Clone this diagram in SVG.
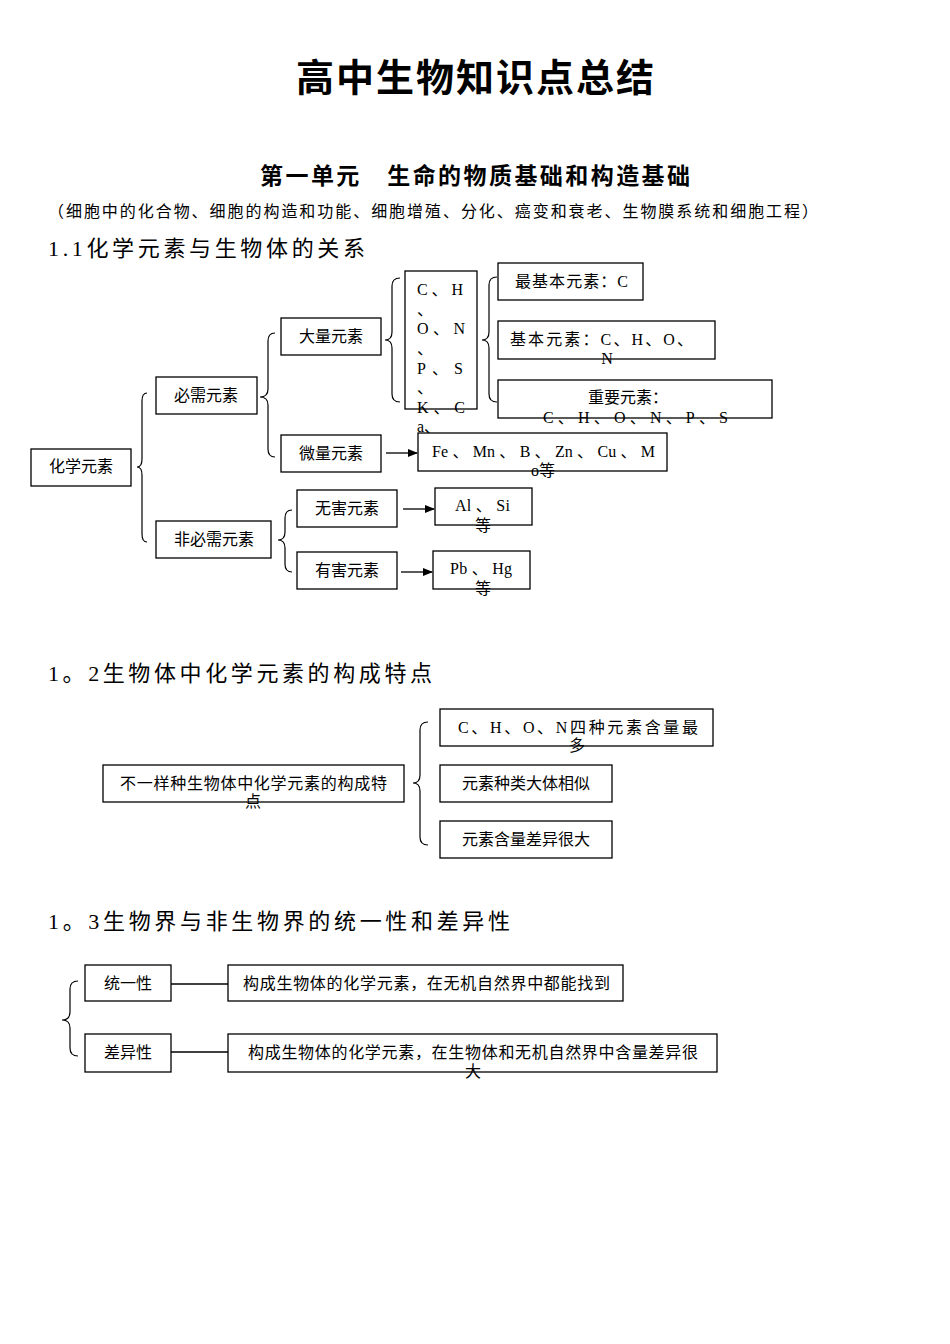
<svg xmlns="http://www.w3.org/2000/svg" width="950" height="1344" viewBox="0 0 950 1344">
<defs>
<style>
.bx{fill:#fff;stroke:#000;stroke-width:1.3}
.t{font-family:"Liberation Serif","Noto Sans CJK SC",serif;font-size:16px;fill:#000}
.c{text-anchor:middle}
.h{font-family:"Liberation Serif","Noto Sans CJK SC",serif;font-size:22px;fill:#000}
.br{fill:none;stroke:#000;stroke-width:1.2}
.ln{fill:none;stroke:#000;stroke-width:1.3}
</style>
<marker id="ah" markerWidth="10" markerHeight="8" refX="9" refY="4" orient="auto" markerUnits="userSpaceOnUse">
<path d="M0,0 L10,4 L0,8 Z" fill="#000"/>
</marker>
</defs>
<rect width="950" height="1344" fill="#fff"/>

<g id="titles">
<text x="475" y="91" text-anchor="middle" font-family="'Noto Sans CJK SC',sans-serif" font-weight="bold" font-size="38" textLength="358">高中生物知识点总结</text>
<text x="260" y="184" font-family="'Liberation Serif','Noto Sans CJK SC',serif" font-weight="bold" font-size="23" textLength="430">第一单元　生命的物质基础和构造基础</text>
<text x="48" y="217" class="t" textLength="770">（细胞中的化合物、细胞的构造和功能、细胞增殖、分化、癌变和衰老、生物膜系统和细胞工程）</text>
<text x="48" y="256" class="h" textLength="317">1.1化学元素与生物体的关系</text>
<text x="48" y="681" class="h" textLength="384">1。2生物体中化学元素的构成特点</text>
<text x="48" y="929" class="h" textLength="462">1。3生物界与非生物界的统一性和差异性</text>
</g>

<g id="connectors">
<path class="br" d="M147,393 Q142,393 142,401 L142,459 Q142,467 137,467 Q142,467 142,475 L142,534 Q142,542 147,542"/>
<path class="br" d="M275,333 Q268,333 268,341 L268,389 Q268,397 260,397 Q268,397 268,405 L268,449 Q268,457 275,457"/>
<path class="br" d="M292,510 Q285,510 285,518 L285,532 Q285,540 278,540 Q285,540 285,548 L285,564 Q285,572 292,572"/>
<path class="br" d="M400,278 Q392,278 392,286 L392,332 Q392,340 385,340 Q392,340 392,348 L392,394 Q392,402 400,402"/>
<path class="br" d="M497,277 Q489,277 489,285 L489,332 Q489,340 482,340 Q489,340 489,348 L489,394 Q489,402 497,402"/>
<path class="br" d="M428,722 Q420,722 420,730 L420,775 Q420,783 413,783 Q420,783 420,791 L420,837 Q420,845 428,845"/>
<path class="br" d="M78,981 Q70,981 70,989 L70,1012 Q70,1020 62,1020 Q70,1020 70,1028 L70,1048 Q70,1056 78,1056"/>
<line class="ln" x1="386" y1="453" x2="417" y2="453" marker-end="url(#ah)"/>
<line class="ln" x1="403" y1="509" x2="434" y2="509" marker-end="url(#ah)"/>
<line class="ln" x1="401" y1="572" x2="432" y2="572" marker-end="url(#ah)"/>
<line class="ln" x1="171" y1="984" x2="228" y2="984"/>
<line class="ln" x1="171" y1="1052" x2="228" y2="1052"/>
</g>

<g id="n-huaxue"><rect class="bx" x="31" y="449" width="100" height="37"/><text class="t c" x="81" y="472">化学元素</text></g>
<g id="n-bixu"><rect class="bx" x="156" y="377" width="101" height="37"/><text class="t c" x="206" y="401">必需元素</text></g>
<g id="n-feibixu"><rect class="bx" x="156" y="521" width="115" height="37"/><text class="t c" x="214" y="545">非必需元素</text></g>
<g id="n-daliang"><rect class="bx" x="281" y="318" width="100" height="37"/><text class="t c" x="331" y="342">大量元素</text></g>
<g id="n-weiliang"><rect class="bx" x="281" y="435" width="100" height="37"/><text class="t c" x="331" y="459">微量元素</text></g>
<g id="n-wuhai"><rect class="bx" x="297" y="490" width="100" height="37"/><text class="t c" x="347" y="514">无害元素</text></g>
<g id="n-youhai"><rect class="bx" x="297" y="552" width="100" height="37"/><text class="t c" x="347" y="576">有害元素</text></g>
<g id="n-chons">
<rect class="bx" x="405" y="271" width="72" height="138"/>
<text class="t" x="417" y="295" textLength="46">C、H</text>
<text class="t" x="417" y="315">、</text>
<text class="t" x="417" y="334" textLength="48">O、N</text>
<text class="t" x="417" y="354">、</text>
<text class="t" x="417" y="374" textLength="46">P、S</text>
<text class="t" x="417" y="393">、</text>
<text class="t" x="417" y="413" textLength="48">K、C</text>
<text class="t" x="417" y="432">a、</text>
</g>
<g id="n-zuijiben"><rect class="bx" x="498" y="263" width="145" height="37"/><text class="t" x="515" y="287" textLength="113">最基本元素：C</text></g>
<g id="n-jiben"><rect class="bx" x="498" y="321" width="217" height="38"/><text class="t" x="510" y="345" textLength="183">基本元素：C、H、O、</text><text class="t c" x="607" y="364">N</text></g>
<g id="n-zhongyao"><rect class="bx" x="498" y="380" width="274" height="38"/><text class="t c" x="628" y="403">重要元素：</text><text class="t" x="543" y="423" textLength="185">C、H、O、N、P、S</text></g>
<g id="n-fe"><rect class="bx" x="418" y="433" width="249" height="38"/><text class="t" x="432" y="457" textLength="223">Fe 、 Mn 、 B 、 Zn 、 Cu 、 M</text><text class="t c" x="543" y="476">o等</text></g>
<g id="n-alsi"><rect class="bx" x="435" y="488" width="97" height="37"/><text class="t" x="455" y="511" textLength="55">Al 、 Si</text><text class="t c" x="483" y="531">等</text></g>
<g id="n-pbhg"><rect class="bx" x="433" y="551" width="97" height="38"/><text class="t" x="450" y="574" textLength="62">Pb 、 Hg</text><text class="t c" x="483" y="594">等</text></g>

<g id="n-tedian"><rect class="bx" x="103" y="765" width="301" height="37"/><text class="t" x="120" y="789" textLength="267">不一样种生物体中化学元素的构成特</text><text class="t c" x="253" y="807">点</text></g>
<g id="n-chon4"><rect class="bx" x="440" y="709" width="273" height="37"/><text class="t" x="458" y="733" textLength="240">C、H、O、N四种元素含量最</text><text class="t c" x="577" y="751">多</text></g>
<g id="n-zhonglei"><rect class="bx" x="440" y="765" width="172" height="37"/><text class="t c" x="526" y="789">元素种类大体相似</text></g>
<g id="n-hanliang"><rect class="bx" x="440" y="821" width="172" height="37"/><text class="t c" x="526" y="845">元素含量差异很大</text></g>

<g id="n-tongyi"><rect class="bx" x="85" y="965" width="86" height="36"/><text class="t c" x="128" y="989">统一性</text></g>
<g id="n-tongyi-d"><rect class="bx" x="228" y="965" width="395" height="36"/><text class="t" x="243" y="989" textLength="367">构成生物体的化学元素，在无机自然界中都能找到</text></g>
<g id="n-chayi"><rect class="bx" x="85" y="1034" width="86" height="38"/><text class="t c" x="128" y="1058">差异性</text></g>
<g id="n-chayi-d"><rect class="bx" x="228" y="1034" width="489" height="38"/><text class="t" x="248" y="1058" textLength="450">构成生物体的化学元素，在生物体和无机自然界中含量差异很</text><text class="t c" x="473" y="1077">大</text></g>
</svg>
